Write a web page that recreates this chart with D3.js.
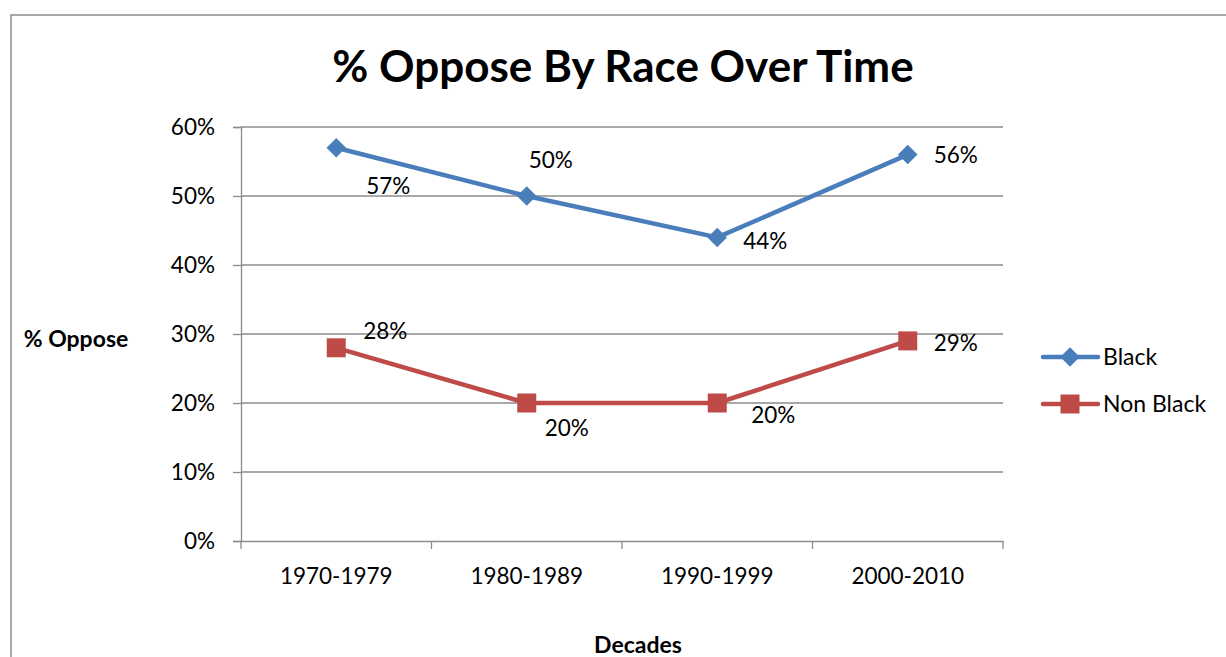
<!DOCTYPE html>
<html>
<head>
<meta charset="utf-8">
<script src="https://cdn.jsdelivr.net/npm/d3@7"></script>
<style>
  body { margin: 0; background: #fff; }
  svg { display: block; font-family: Lato, "Open Sans", sans-serif; }
</style>
</head>
<body>
<svg id="chart" width="1226" height="657"></svg>
<script>
const decades = ["1970-1979", "1980-1989", "1990-1999", "2000-2010"];
const black = [0.57, 0.50, 0.44, 0.56];
const nonBlack = [0.28, 0.20, 0.20, 0.29];
const yTicks = [0, 0.1, 0.2, 0.3, 0.4, 0.5, 0.6];

// data label placement, relative to the point
const blackLabelOffsets = [[52, 38], [24, -36], [48, 4], [48, 1]];
const nonBlackLabelOffsets = [[49, -17], [40, 25], [56, 12], [48, 2]];

const svg = d3.select("#chart");
const margin = { top: 127, right: 223, bottom: 116, left: 241 };
const width = 1226 - margin.left - margin.right;
const height = 657 - margin.top - margin.bottom;
const grey = "#8c8c8c";
const fontSize = "22.5px";

// outer chart frame
svg.append("rect")
    .attr("x", 11).attr("y", 15)
    .attr("width", 1240).attr("height", 700)
    .attr("fill", "none").attr("stroke", grey).attr("stroke-width", 1.5);

svg.append("text")
    .attr("x", 623).attr("y", 82)
    .attr("text-anchor", "middle")
    .style("font-size", "44px").style("font-weight", "bold")
    .text("% Oppose By Race Over Time");

const x = d3.scaleBand().domain(decades).range([0, width]);
const y = d3.scaleLinear().domain([0, 0.6]).range([height, 0]);

const g = svg.append("g").attr("transform", `translate(${margin.left},${margin.top})`);

// gridlines
g.selectAll(".grid")
    .data(yTicks.slice(1))
    .enter().append("line")
    .attr("x1", 0).attr("x2", width)
    .attr("y1", d => y(d)).attr("y2", d => y(d))
    .attr("stroke", grey).attr("stroke-width", 1.3);

const yAxis = g.append("g")
    .call(d3.axisLeft(y).tickValues(yTicks).tickFormat(d3.format(".0%")).tickSize(8).tickPadding(18));
const xAxis = g.append("g")
    .attr("transform", `translate(0,${height})`)
    .call(d3.axisBottom(x).tickSize(0).tickPadding(27));

// x ticks sit between categories
xAxis.selectAll(".sep")
    .data(d3.range(decades.length + 1))
    .enter().append("line")
    .attr("x1", i => i * x.bandwidth()).attr("x2", i => i * x.bandwidth())
    .attr("y1", 0).attr("y2", 8)
    .attr("stroke", grey).attr("stroke-width", 1.3);

[yAxis, xAxis].forEach(a => {
    a.selectAll(".domain").attr("stroke", grey).attr("stroke-width", 1.3);
    a.selectAll(".tick line").attr("stroke", grey).attr("stroke-width", 1.3);
    a.selectAll("text").style("font-size", fontSize).attr("fill", "#000").style("font-family", "Lato, sans-serif");
});
yAxis.selectAll("text").attr("dy", "0.35em");

const cx = d => x(d) + x.bandwidth() / 2;

const series = [
    { name: "Black", values: black, color: "#4a7ebb", rotate: 45, size: 190, offsets: blackLabelOffsets },
    { name: "Non Black", values: nonBlack, color: "#be4b48", rotate: 0, size: 361, offsets: nonBlackLabelOffsets }
];

const line = d3.line().x((d, i) => cx(decades[i])).y(d => y(d));
const marker = s => d3.symbol().type(d3.symbolSquare).size(s.size)();

series.forEach(s => {
    g.append("path")
        .datum(s.values)
        .attr("d", line)
        .attr("fill", "none")
        .attr("stroke", s.color)
        .attr("stroke-width", 4.5)
        .attr("stroke-linejoin", "round");

    g.selectAll(null)
        .data(s.values)
        .enter().append("path")
        .attr("transform", (d, i) => `translate(${cx(decades[i])},${y(d)}) rotate(${s.rotate})`)
        .attr("d", marker(s))
        .attr("fill", s.color);

    g.selectAll(null)
        .data(s.values)
        .enter().append("text")
        .attr("x", (d, i) => cx(decades[i]) + s.offsets[i][0])
        .attr("y", (d, i) => y(d) + s.offsets[i][1])
        .attr("text-anchor", "middle")
        .attr("dy", "0.35em")
        .style("font-size", fontSize)
        .text(d => d3.format(".0%")(d));
});

// axis titles
svg.append("text")
    .attr("x", 76).attr("y", 347)
    .attr("text-anchor", "middle")
    .style("font-size", "23px").style("font-weight", "bold")
    .text("% Oppose");
svg.append("text")
    .attr("x", 638).attr("y", 653)
    .attr("text-anchor", "middle")
    .style("font-size", "23px").style("font-weight", "bold")
    .text("Decades");

// legend
const legend = svg.append("g").attr("transform", "translate(1043,357)");
series.forEach((s, i) => {
    const row = legend.append("g").attr("transform", `translate(0,${i * 47})`);
    row.append("line")
        .attr("x1", 0).attr("x2", 55)
        .attr("stroke", s.color).attr("stroke-width", 4.5).attr("stroke-linecap", "round");
    row.append("path")
        .attr("transform", `translate(27,0) rotate(${s.rotate})`)
        .attr("d", marker(s))
        .attr("fill", s.color);
    row.append("text")
        .attr("x", 60).attr("dy", "0.35em")
        .style("font-size", "23px")
        .text(s.name);
});
</script>
</body>
</html>
